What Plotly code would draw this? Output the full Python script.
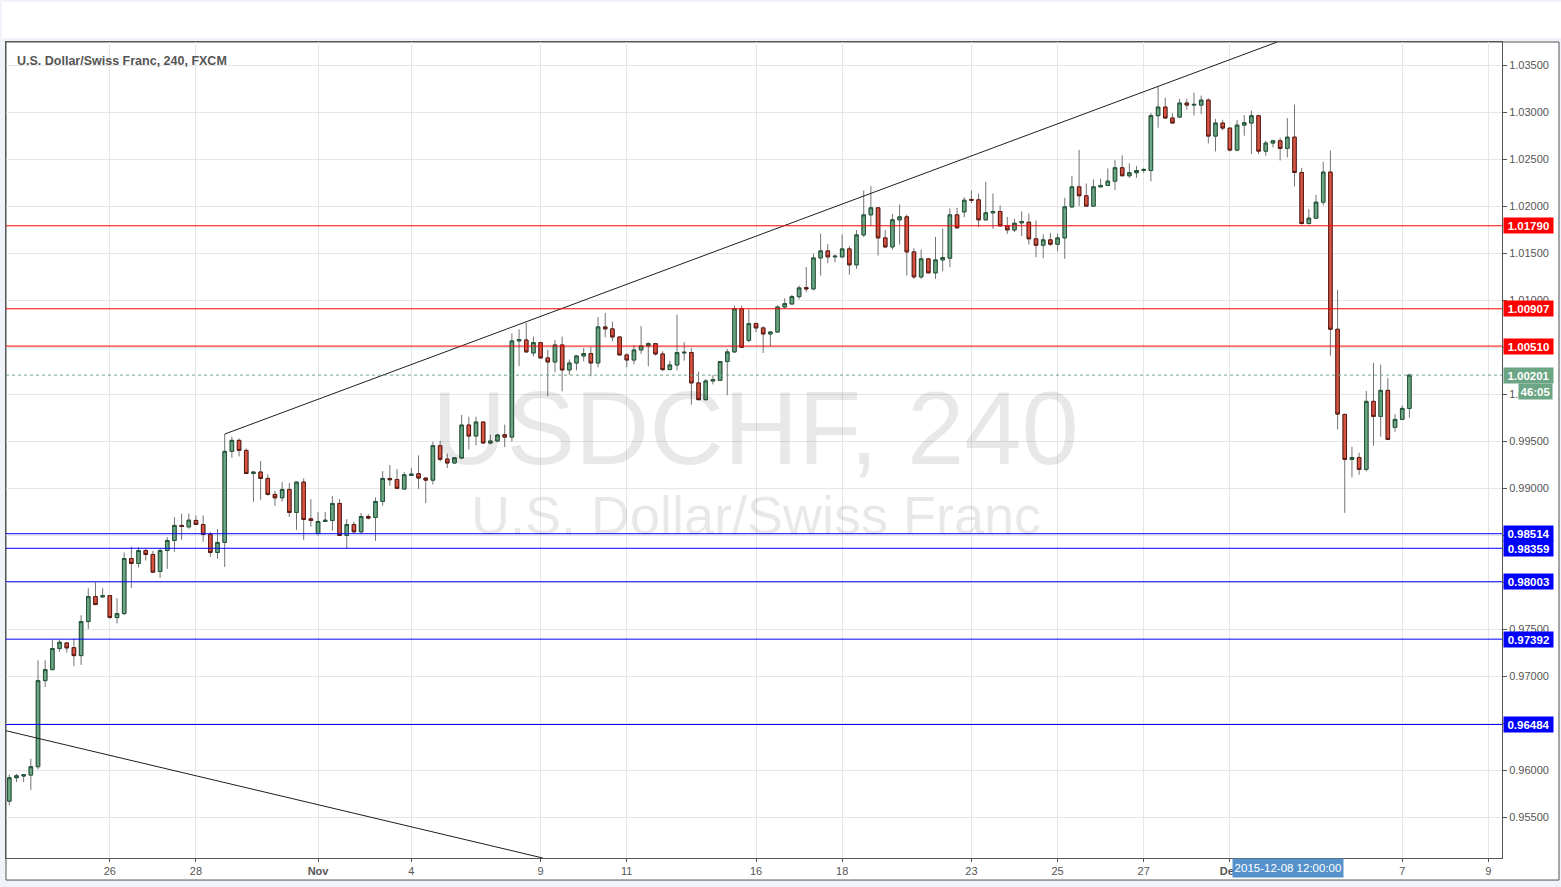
import plotly.graph_objects as go

# ---------------- data (USD/CHF, 240 min candles, FXCM) ----------------
opens = [0.95669,0.95918,0.95936,0.95946,0.96035,0.96951,0.97068,0.97292,0.97352,0.97302,
         0.97217,0.97579,0.97845,0.97842,0.97856,0.97622,0.97664,0.98250,0.98197,0.98335,
         0.98293,0.98112,0.98335,0.98442,0.98602,0.98587,0.98655,0.98612,0.98506,0.98314,
         0.98421,0.99390,0.99507,0.99400,0.99155,0.99170,0.99102,0.98932,0.98896,0.98985,
         0.98740,0.99063,0.98673,0.98516,0.98644,0.98655,0.98836,0.98495,0.98612,0.98534,
         0.98697,0.98687,0.98857,0.99102,0.99091,0.98989,0.99134,0.99152,0.99106,0.99084,
         0.99450,0.99308,0.99266,0.99319,0.99670,0.99553,0.99702,0.99479,0.99500,0.99567,
         0.99542,1.00565,1.00575,1.00437,1.00547,1.00384,1.00341,1.00522,1.00256,1.00330,
         1.00405,1.00430,1.00330,1.00714,1.00693,1.00607,1.00416,1.00362,1.00469,1.00512,
         1.00536,1.00426,1.00260,1.00309,1.00437,1.00441,1.00118,0.99940,1.00139,1.00146,
         1.00345,1.00448,1.00906,1.00571,1.00749,1.00703,1.00639,1.00660,1.00926,1.00958,
         1.01036,1.01132,1.01118,1.01448,1.01523,1.01459,1.01459,1.01544,1.01374,1.01693,
         1.01906,1.01981,1.01661,1.01565,1.01853,1.01885,1.01512,1.01246,1.01438,1.01289,
         1.01427,1.01445,1.01906,1.01938,1.02070,1.02066,1.01853,1.01928,1.01942,1.01789,
         1.01746,1.01821,1.01828,1.01651,1.01583,1.01640,1.01594,1.01661,1.01991,1.02204,
         1.02109,1.01999,1.02204,1.02219,1.02265,1.02407,1.02322,1.02354,1.02378,1.02378,
         1.02961,1.03053,1.02936,1.02946,1.03096,1.03074,1.03074,1.03127,1.02744,1.02883,
         1.02829,1.02595,1.02861,1.02883,1.02961,1.02584,1.02670,1.02694,1.02613,1.02733,
         1.02357,1.01814,1.01871,1.02041,1.02361,1.00689,0.99783,0.99304,0.99325,0.99198,
         0.99922,0.99762,1.00039,0.99645,0.99730,0.99847]
highs = [0.95953,0.95960,0.95955,0.96120,0.97167,0.97167,0.97384,0.97384,0.97360,0.97398,
         0.97647,0.97934,0.97998,0.97934,0.97860,0.97828,0.98314,0.98378,0.98371,0.98353,
         0.98332,0.98353,0.98477,0.98690,0.98729,0.98729,0.98708,0.98708,0.98531,0.98563,
         0.99574,0.99546,0.99528,0.99422,0.99175,0.99287,0.99145,0.98971,0.99063,0.99052,
         0.99070,0.99102,0.98882,0.98744,0.98744,0.98914,0.98882,0.98669,0.98641,0.98733,
         0.98722,0.98900,0.99180,0.99244,0.99202,0.99170,0.99212,0.99347,0.99110,0.99493,
         0.99503,0.99365,0.99330,0.99777,0.99759,0.99759,0.99705,0.99567,0.99574,0.99674,
         1.00646,1.00689,1.00757,1.00611,1.00554,1.00472,1.00575,1.00611,1.00366,1.00410,
         1.00490,1.00501,1.00820,1.00863,1.00771,1.00615,1.00433,1.00522,1.00721,1.00551,
         1.00543,1.00455,1.00355,1.00845,1.00551,1.00490,1.00238,1.00160,1.00203,1.00350,
         1.00480,1.00941,1.00941,1.00898,1.00763,1.00721,1.00667,1.00944,1.01019,1.01054,
         1.01154,1.01352,1.01494,1.01707,1.01597,1.01484,1.01697,1.01573,1.01743,1.02165,
         1.02212,1.01985,1.01743,1.01917,1.02016,1.01910,1.01551,1.01537,1.01445,1.01672,
         1.01761,1.01974,1.01981,1.02094,1.02165,1.02133,1.02258,1.02133,1.02006,1.01885,
         1.01864,1.01942,1.01920,1.01846,1.01697,1.01715,1.01707,1.02087,1.02318,1.02596,
         1.02240,1.02282,1.02290,1.02400,1.02488,1.02538,1.02453,1.02425,1.02407,1.02989,
         1.03273,1.03152,1.02989,1.03142,1.03142,1.03206,1.03174,1.03145,1.02925,1.02918,
         1.02835,1.02915,1.02968,1.03014,1.02971,1.02694,1.02705,1.02726,1.02936,1.03078,
         1.02407,1.01967,1.02119,1.02471,1.02591,1.01108,0.99790,0.99439,0.99375,1.00032,
         1.00330,1.00312,1.00170,0.99787,0.99879,1.00217]
lows = [0.95623,0.95872,0.95872,0.95786,0.96007,0.96883,0.97060,0.97256,0.97249,0.97107,
        0.97118,0.97501,0.97755,0.97831,0.97611,0.97558,0.97650,0.97938,0.98154,0.98229,
        0.98094,0.98044,0.98140,0.98321,0.98449,0.98566,0.98605,0.98428,0.98268,0.98247,
        0.98161,0.99322,0.99336,0.99150,0.98854,0.98875,0.98918,0.98811,0.98854,0.98694,
        0.98555,0.98449,0.98587,0.98492,0.98640,0.98545,0.98490,0.98353,0.98527,0.98520,
        0.98665,0.98438,0.98811,0.99024,0.98990,0.98982,0.99130,0.98989,0.98840,0.99038,
        0.99283,0.99212,0.99260,0.99308,0.99411,0.99454,0.99472,0.99464,0.99489,0.99436,
        0.99493,1.00295,1.00440,1.00402,1.00377,0.99976,1.00231,1.00029,1.00203,1.00252,
        1.00348,1.00189,1.00284,1.00604,1.00561,1.00410,1.00284,1.00316,1.00426,1.00295,
        1.00409,1.00242,1.00255,1.00252,1.00355,0.99887,0.99935,0.99933,1.00103,1.00140,
        0.99986,1.00437,1.00490,1.00550,1.00657,1.00437,1.00508,1.00653,1.00905,1.00951,
        1.01008,1.01083,1.01104,1.01260,1.01392,1.01402,1.01452,1.01271,1.01331,1.01672,
        1.01786,1.01473,1.01551,1.01537,1.01590,1.01260,1.01225,1.01225,1.01285,1.01225,
        1.01306,1.01349,1.01761,1.01881,1.02034,1.01778,1.01846,1.01757,1.01778,1.01704,
        1.01722,1.01679,1.01590,1.01455,1.01445,1.01576,1.01519,1.01438,1.01981,1.01999,
        1.01991,1.01991,1.02201,1.02212,1.02169,1.02318,1.02300,1.02300,1.02354,1.02261,
        1.02833,1.02930,1.02878,1.02940,1.03025,1.02964,1.02978,1.02666,1.02581,1.02804,
        1.02581,1.02581,1.02748,1.02552,1.02552,1.02535,1.02623,1.02485,1.02517,1.02208,
        1.01803,1.01803,1.01867,1.02006,1.00408,0.99624,0.98736,0.99112,0.99141,0.99176,
        0.99450,0.99546,0.99510,0.99599,0.99725,0.99748]
closes = [0.95918,0.95939,0.95950,0.96035,0.96951,0.97068,0.97292,0.97359,0.97299,0.97217,
          0.97579,0.97845,0.97760,0.97856,0.97622,0.97664,0.98250,0.98197,0.98335,0.98293,
          0.98105,0.98335,0.98442,0.98602,0.98591,0.98658,0.98612,0.98506,0.98314,0.98421,
          0.99390,0.99507,0.99400,0.99155,0.99170,0.99102,0.98932,0.98896,0.98985,0.98740,
          0.99063,0.98665,0.98655,0.98644,0.98658,0.98836,0.98495,0.98612,0.98534,0.98697,
          0.98680,0.98857,0.99102,0.99088,0.98996,0.99141,0.99148,0.99106,0.99084,0.99450,
          0.99305,0.99266,0.99322,0.99670,0.99553,0.99702,0.99479,0.99500,0.99564,0.99542,
          1.00565,1.00579,1.00448,1.00547,1.00384,1.00341,1.00522,1.00256,1.00330,1.00405,
          1.00430,1.00330,1.00714,1.00693,1.00607,1.00416,1.00362,1.00469,1.00512,1.00536,
          1.00426,1.00260,1.00309,1.00441,1.00444,1.00118,0.99940,1.00139,1.00153,1.00345,
          1.00448,1.00906,1.00497,1.00749,1.00703,1.00639,1.00660,1.00926,1.00962,1.01036,
          1.01129,1.01118,1.01448,1.01523,1.01459,1.01466,1.01544,1.01374,1.01693,1.01906,
          1.01981,1.01661,1.01565,1.01853,1.01885,1.01512,1.01246,1.01438,1.01289,1.01427,
          1.01452,1.01906,1.01768,1.02062,1.02062,1.01853,1.01928,1.01942,1.01789,1.01746,
          1.01817,1.01835,1.01651,1.01583,1.01640,1.01594,1.01661,1.01991,1.02204,1.02109,
          1.01999,1.02204,1.02219,1.02265,1.02407,1.02322,1.02354,1.02378,1.02389,1.02961,
          1.03053,1.02936,1.02883,1.03096,1.03074,1.03081,1.03127,1.02744,1.02883,1.02829,
          1.02595,1.02861,1.02886,1.02961,1.02584,1.02670,1.02694,1.02613,1.02733,1.02357,
          1.01814,1.01871,1.02041,1.02361,1.00689,0.99787,0.99304,0.99325,0.99198,0.99922,
          0.99762,1.00039,0.99517,0.99730,0.99847,1.00201]

# x-axis day labels (placed at candle index of the day's start)
day_tick_index = [14, 26, 43, 56, 74, 86, 104, 116, 134, 146, 158, 170, 194, 206]
day_tick_text = ["26", "28", "<b>Nov</b>", "4", "9", "11", "16", "18", "23", "25", "27",
                 "<b>Dec</b>", "7", "9"]
price_ticks = [0.955, 0.960, 0.965, 0.970, 0.975, 0.980, 0.985, 0.990, 0.995, 1.000,
               1.005, 1.010, 1.015, 1.020, 1.025, 1.030, 1.035]

red_levels = [1.01790, 1.00907, 1.00510]
blue_levels = [0.98514, 0.98359, 0.98003, 0.97392, 0.96484]
last_price = 1.00201
countdown = "46:05"
crosshair_time = "2015-12-08 12:00:00"

# drawn trend lines (candle index, price)
upper_trend_x = [30, 176.6]
upper_trend_y = [0.99574, 1.03745]
lower_trend_x = [-0.46, 74.3]
lower_trend_y = [0.96418, 0.95064]

# ---------------- styling ----------------
FONT = "Liberation Sans, Arial, sans-serif"
UP_FILL, UP_LINE = "#6ba583", "#225437"
DN_FILL, DN_LINE = "#d75442", "#5b1a13"
WICK = "#737375"
AX = "#555555"
GRID = "#e6e6e6"

idx = list(range(len(opens)))
body_hi = [max(o, c) for o, c in zip(opens, closes)]
body_lo = [min(o, c) for o, c in zip(opens, closes)]

fig = go.Figure()

# wicks
fig.add_trace(go.Candlestick(
    x=idx, open=opens, high=highs, low=lows, close=closes,
    increasing=dict(line=dict(color=WICK, width=1), fillcolor=UP_FILL),
    decreasing=dict(line=dict(color=WICK, width=1), fillcolor=DN_FILL),
    hoverinfo="skip", showlegend=False))
# bodies
fig.add_trace(go.Candlestick(
    x=idx, open=opens, high=body_hi, low=body_lo, close=closes,
    increasing=dict(line=dict(color=UP_LINE, width=1), fillcolor=UP_FILL),
    decreasing=dict(line=dict(color=DN_LINE, width=1), fillcolor=DN_FILL),
    hoverinfo="skip", showlegend=False))

fig.add_trace(go.Scatter(x=upper_trend_x, y=upper_trend_y, mode="lines",
                         line=dict(color="#1e1e1e", width=1), hoverinfo="skip"))
fig.add_trace(go.Scatter(x=lower_trend_x, y=lower_trend_y, mode="lines",
                         line=dict(color="#1e1e1e", width=1), hoverinfo="skip"))

shapes = []
# outer chart frame and top white strip
shapes.append(dict(type="rect", xref="paper", yref="paper", x0=0, x1=1.0381, y0=-0.027, y1=1.0,
                   fillcolor="white", line=dict(color=AX, width=1), layer="below"))
shapes.append(dict(type="rect", xref="paper", yref="paper", x0=-0.0027, x1=1.04, y0=1.0049, y1=1.049,
                   fillcolor="white", line=dict(width=0), layer="below"))
for v in red_levels:
    shapes.append(dict(type="line", xref="paper", yref="y", x0=0, x1=1, y0=v, y1=v,
                       line=dict(color="#ff0000", width=1)))
for v in blue_levels:
    shapes.append(dict(type="line", xref="paper", yref="y", x0=0, x1=1, y0=v, y1=v,
                       line=dict(color="#0000ff", width=1)))
shapes.append(dict(type="line", xref="paper", yref="y", x0=0, x1=1, y0=last_price, y1=last_price,
                   line=dict(color=UP_FILL, width=1, dash="dot")))

annotations = []
# watermark
annotations.append(dict(text="USDCHF, 240", xref="paper", yref="paper", x=0.5007, y=0.5269,
                        showarrow=False, font=dict(family=FONT, size=103, color="rgba(0,0,0,0.09)"),
                        xanchor="center", yanchor="middle"))
annotations.append(dict(text="U.S. Dollar/Swiss Franc", xref="paper", yref="paper", x=0.5013, y=0.4203,
                        showarrow=False, font=dict(family=FONT, size=54, color="rgba(0,0,0,0.09)"),
                        xanchor="center", yanchor="middle"))
# title
annotations.append(dict(text="<b>U.S. Dollar/Swiss Franc, 240, FXCM</b>", xref="paper", yref="paper",
                        x=0.006, y=0.977, xanchor="left", yanchor="middle", showarrow=False,
                        font=dict(family=FONT, size=12.5, color="#555555")))


def price_label(v, color):
    return dict(text="<b>%.5f</b>" % v, xref="paper", yref="y", x=1.0005, y=v,
                xanchor="left", yanchor="middle", showarrow=False, align="center",
                font=dict(family=FONT, size=11.5, color="white"), bgcolor=color,
                width=47, height=13, borderpad=1)


for v in red_levels:
    annotations.append(price_label(v, "#ff0000"))
for v in blue_levels:
    annotations.append(price_label(v, "#0000ff"))
annotations.append(price_label(last_price, UP_FILL))
annotations.append(dict(text="<b>%s</b>" % countdown, xref="paper", yref="y", x=1.0107, y=last_price,
                        yshift=-16, xanchor="left", yanchor="middle", showarrow=False, align="center",
                        font=dict(family=FONT, size=11.5, color="white"), bgcolor=UP_FILL,
                        width=31, height=13, borderpad=1))
annotations.append(dict(text=crosshair_time, xref="paper", yref="paper", x=0.857, y=-0.0125,
                        xanchor="center", yanchor="middle", showarrow=False,
                        font=dict(family=FONT, size=11.5, color="white"), bgcolor="#5592cc",
                        width=108, height=16, borderpad=1))

fig.update_layout(
    width=1561, height=887,
    margin=dict(l=6, r=59, t=42, b=29),
    paper_bgcolor="#f0f3fa", plot_bgcolor="rgba(0,0,0,0)",
    showlegend=False, hovermode=False,
    shapes=shapes, annotations=annotations,
    xaxis=dict(range=[-0.46, 207.9], tickvals=day_tick_index, ticktext=day_tick_text,
               showgrid=True, gridcolor=GRID, gridwidth=1, zeroline=False,
               showline=True, linecolor=AX, linewidth=1, mirror=True,
               ticks="outside", ticklen=3, tickcolor=AX,
               tickfont=dict(family=FONT, size=11, color=AX),
               rangeslider=dict(visible=False), fixedrange=True),
    yaxis=dict(range=[0.95064, 1.03745], side="right", tickvals=price_ticks, tickformat=".5f",
               showgrid=True, gridcolor=GRID, gridwidth=1, zeroline=False,
               showline=True, linecolor=AX, linewidth=1, mirror=True,
               ticks="outside", ticklen=4, tickcolor=AX,
               tickfont=dict(family=FONT, size=11, color=AX), fixedrange=True),
)

fig.write_html("out.html", config={"displayModeBar": False},
               post_script="document.body.style.margin='0';document.body.style.overflow='hidden';")
